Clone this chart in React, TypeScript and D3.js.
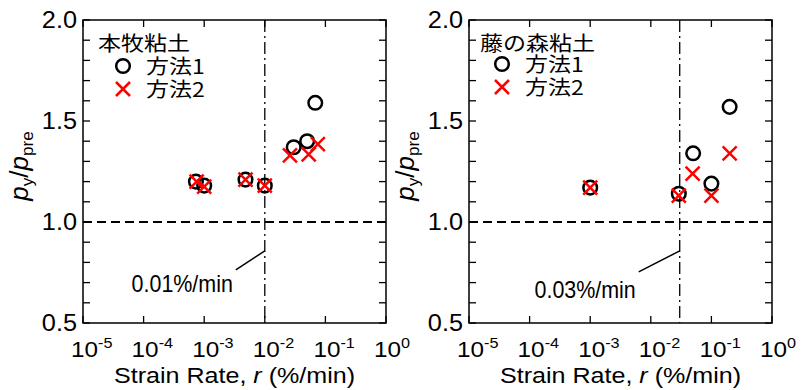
import React, { useEffect, useRef } from "react";
import * as d3 from "d3";

// strain rate (%/min) and p_y/p_pre
const honmokuRate1 = [0.00073, 0.001, 0.0048, 0.01, 0.03, 0.05, 0.068];
const honmokuRatio1 = [1.2, 1.18, 1.21, 1.18, 1.37, 1.4, 1.59];
const honmokuRate2 = [0.00075, 0.001, 0.0048, 0.01, 0.026, 0.053, 0.075];
const honmokuRatio2 = [1.2, 1.175, 1.21, 1.18, 1.33, 1.335, 1.385];

const fujiRate1 = [0.001, 0.029, 0.05, 0.1, 0.2];
const fujiRatio1 = [1.17, 1.14, 1.34, 1.19, 1.57];
const fujiRate2 = [0.001, 0.029, 0.049, 0.1, 0.2];
const fujiRatio2 = [1.17, 1.13, 1.24, 1.13, 1.34];

const xTickExps = [-5, -4, -3, -2, -1, 0];
const yMajorTicks = [0.5, 1.0, 1.5, 2.0];
const yTickLabels = ["0.5", "1.0", "1.5", "2.0"];
const seriesNames = ["方法1", "方法2"];
const panelTitles = ["本牧粘土", "藤の森粘土"];
const thresholds = [0.01, 0.03];
const thresholdLabels = ["0.01%/min", "0.03%/min"];

const FONT = "'Liberation Sans', Arial, Helvetica, sans-serif";
const CJK = "'Noto Sans CJK JP', 'Noto Sans CJK SC', sans-serif";

function drawPanel(svg, cfg) {
  var x = d3.scaleLog().domain([1e-5, 1]).range([cfg.left, cfg.left + 303]);
  var y = d3.scaleLinear().domain([0.5, 2.0]).range([323, 20]);
  var g = svg.append("g");

  // text in the figure is a bit wider than the font, so stretch it
  function txt(px, py, anchor, font, size, sx) {
    return g
      .append("g")
      .attr("transform", "translate(" + px + "," + py + ") scale(" + sx + ",1)")
      .append("text")
      .attr("text-anchor", anchor)
      .attr("font-family", font)
      .attr("font-size", size)
      .attr("fill", "#000");
  }

  // reference lines
  g.append("line")
    .attr("x1", x(1e-5)).attr("x2", x(1))
    .attr("y1", y(1)).attr("y2", y(1))
    .attr("stroke", "#000").attr("stroke-width", 2)
    .attr("stroke-dasharray", "9,5");
  g.append("line")
    .attr("x1", x(cfg.threshold)).attr("x2", x(cfg.threshold))
    .attr("y1", y(2)).attr("y2", y(0.5))
    .attr("stroke", "#000").attr("stroke-width", 1.3)
    .attr("stroke-dasharray", "12,4,2,4");

  // leader + label
  var lx = x(cfg.threshold);
  var ly = y(0.857);
  g.append("line")
    .attr("x1", lx - cfg.leadDx).attr("y1", ly + cfg.leadDy)
    .attr("x2", lx).attr("y2", ly)
    .attr("stroke", "#000").attr("stroke-width", 1.5);
  txt(lx - cfg.leadDx - 3, ly + cfg.leadDy + cfg.textDy, "end", "'Liberation Sans Narrow', " + FONT, 23.5, 1.15)
    .attr("textLength", 88)
    .attr("lengthAdjust", "spacingAndGlyphs")
    .text(cfg.thresholdLabel);

  // frame
  g.append("rect")
    .attr("x", x(1e-5)).attr("y", y(2))
    .attr("width", x(1) - x(1e-5)).attr("height", y(0.5) - y(2))
    .attr("fill", "none").attr("stroke", "#000").attr("stroke-width", 1.5);

  // ticks, inward on all sides
  var yMinor = d3.range(5, 21).map(function(d) { return d / 10; });
  yMinor.forEach(function(v) {
    g.append("line").attr("x1", x(1e-5)).attr("x2", x(1e-5) + 7)
      .attr("y1", y(v)).attr("y2", y(v)).attr("stroke", "#000").attr("stroke-width", 1.3);
    g.append("line").attr("x1", x(1)).attr("x2", x(1) - 7)
      .attr("y1", y(v)).attr("y2", y(v)).attr("stroke", "#000").attr("stroke-width", 1.3);
  });
  xTickExps.forEach(function(e) {
    var xv = x(Math.pow(10, e));
    g.append("line").attr("x1", xv).attr("x2", xv)
      .attr("y1", y(0.5)).attr("y2", y(0.5) - 7).attr("stroke", "#000").attr("stroke-width", 1.3);
    g.append("line").attr("x1", xv).attr("x2", xv)
      .attr("y1", y(2)).attr("y2", y(2) + 7).attr("stroke", "#000").attr("stroke-width", 1.3);
    var t = txt(xv - 12, 357, "start", FONT, 22.5, 1.08);
    t.append("tspan").text("10");
    t.append("tspan").attr("font-size", 15).attr("dy", -9).text(e === 0 ? "0" : "-" + -e);
  });
  yMajorTicks.forEach(function(v, i) {
    txt(x(1e-5) - 6, y(v) + 8, "end", FONT, 23, 1.1).text(yTickLabels[i]);
  });

  // axis titles
  var xt = txt((x(1e-5) + x(1)) / 2, 383, "middle", FONT, 22, 1.14);
  xt.append("tspan").text("Strain Rate, ");
  xt.append("tspan").attr("font-style", "italic").text("r");
  xt.append("tspan").text(" (%/min)");

  var yt = g.append("text")
    .attr("transform", "translate(" + (x(1e-5) - 55) + ",166) rotate(-90)")
    .attr("text-anchor", "middle")
    .attr("font-family", FONT)
    .attr("font-size", 26);
  yt.append("tspan").attr("font-style", "italic").text("p");
  yt.append("tspan").attr("font-size", 17).attr("dy", 5).text("y");
  yt.append("tspan").attr("dy", -5).text("/");
  yt.append("tspan").attr("font-style", "italic").text("p");
  yt.append("tspan").attr("font-size", 17).attr("dy", 5).text("pre");

  // markers
  cfg.rate1.forEach(function(r, i) {
    g.append("circle")
      .attr("cx", x(r)).attr("cy", y(cfg.ratio1[i])).attr("r", 6.8)
      .attr("fill", "none").attr("stroke", "#000").attr("stroke-width", 2.5);
  });
  var cross = function(cx, cy) {
    var s = 7;
    g.append("path")
      .attr("d", "M" + (cx - s) + "," + (cy - s) + "L" + (cx + s) + "," + (cy + s) +
        "M" + (cx - s) + "," + (cy + s) + "L" + (cx + s) + "," + (cy - s))
      .attr("stroke", "#ff0000").attr("stroke-width", 2.5).attr("fill", "none");
  };
  cfg.rate2.forEach(function(r, i) {
    cross(x(r), y(cfg.ratio2[i]));
  });

  // legend
  txt(cfg.legX, 51, "start", CJK, 20, 1.15).text(cfg.title);
  g.append("circle")
    .attr("cx", cfg.legX + cfg.legMark).attr("cy", cfg.legY1).attr("r", 6.8)
    .attr("fill", "none").attr("stroke", "#000").attr("stroke-width", 2.5);
  cross(cfg.legX + cfg.legMark, cfg.legY2);
  txt(cfg.legX + cfg.legMark + 23, cfg.legY1 + 8, "start", CJK, 20, 1.15).text(seriesNames[0]);
  txt(cfg.legX + cfg.legMark + 23, cfg.legY2 + 8, "start", CJK, 20, 1.15).text(seriesNames[1]);
}

export default function App() {
  const ref = useRef(null);
  useEffect(() => {
    var svg = d3.select(ref.current);
    svg.selectAll("*").remove();
    drawPanel(svg, {
      left: 83,
      rate1: honmokuRate1, ratio1: honmokuRatio1,
      rate2: honmokuRate2, ratio2: honmokuRatio2,
      threshold: thresholds[0], thresholdLabel: thresholdLabels[0],
      title: panelTitles[0],
      leadDx: 29, leadDy: 19, textDy: 22,
      legX: 98, legMark: 25, legY1: 66, legY2: 89
    });
    drawPanel(svg, {
      left: 469,
      rate1: fujiRate1, ratio1: fujiRatio1,
      rate2: fujiRate2, ratio2: fujiRatio2,
      threshold: thresholds[1], thresholdLabel: thresholdLabels[1],
      title: panelTitles[1],
      leadDx: 41, leadDy: 21, textDy: 26,
      legX: 480, legMark: 22, legY1: 64, legY2: 87
    });
  }, []);
  return (
    <svg
      ref={ref}
      width={812}
      height={390}
      style={{ position: "absolute", left: 0, top: 0, background: "#fff" }}
    />
  );
}
